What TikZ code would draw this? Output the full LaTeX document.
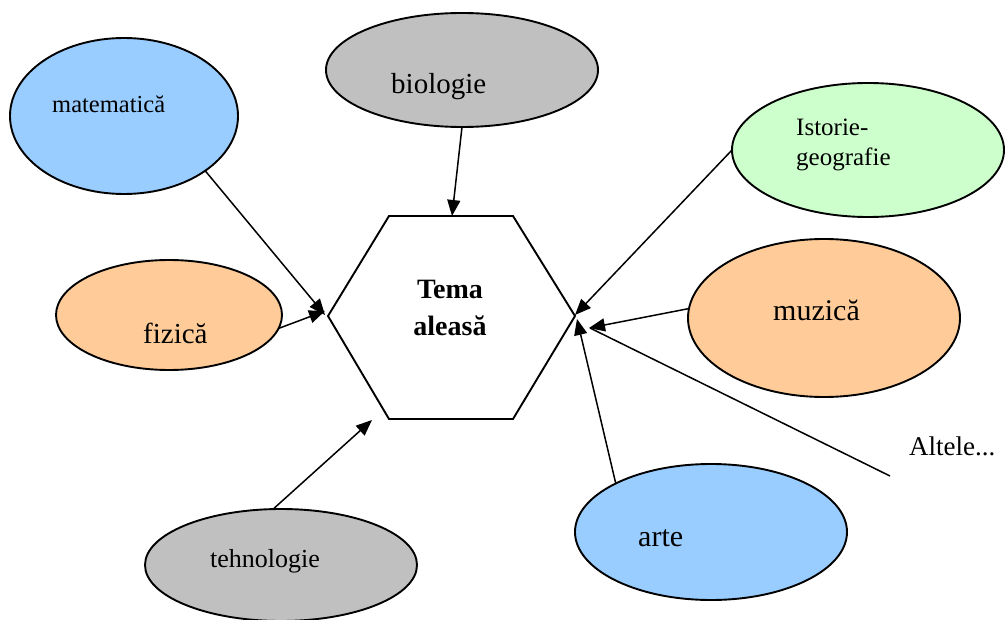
\documentclass[tikz,border=0pt]{standalone}
\usepackage{fontspec}
\setmainfont{Liberation Serif}
\usetikzlibrary{shapes.geometric,arrows.meta}
\definecolor{cblue}{HTML}{99CCFF}
\definecolor{corange}{HTML}{FFCC99}
\definecolor{cgrey}{HTML}{C0C0C0}
\definecolor{cgreen}{HTML}{CCFFCC}
\tikzset{
  bubble/.style={ellipse, draw=black, line width=1.9pt, inner sep=0pt, outer sep=0pt},
  lbl/.style={anchor=base west, inner sep=0pt},
  conn/.style={line width=1.5pt, -{Triangle[length=16pt,width=13pt]}},
  plainconn/.style={line width=1.5pt},
}
\begin{document}
\begin{tikzpicture}[x=1pt,y=-1pt]
\useasboundingbox (0,0) rectangle (1006,620);
% ellipses
\node[bubble, fill=cblue, minimum width=228pt, minimum height=156pt] (mat) at (124,116) {};
\node[bubble, fill=corange, minimum width=226pt, minimum height=110pt] (fiz) at (169,315) {};
\node[bubble, fill=cgrey, minimum width=272pt, minimum height=114pt] (bio) at (462,70) {};
\node[bubble, fill=cgreen, minimum width=272pt, minimum height=134pt] (ist) at (868,150) {};
\node[bubble, fill=corange, minimum width=272pt, minimum height=158pt] (muz) at (824,318) {};
\node[bubble, fill=cblue, minimum width=272pt, minimum height=136pt] (arte) at (711,532) {};
\node[bubble, fill=cgrey, minimum width=272pt, minimum height=112pt] (teh) at (281,565) {};
% labels
\node[lbl, font=\fontsize{24.5}{29}\selectfont] (tmat) at (52,113) {matematică};
\node[lbl, font=\fontsize{29}{34}\selectfont] (tfiz) at (143,343) {fizică};
\node[lbl, font=\fontsize{29}{34}\selectfont] (tbio) at (391,94) {biologie};
\node[anchor=north west, inner sep=0pt, align=left, font=\fontsize{25}{30}\selectfont] (tist) at (796,118.5) {Istorie-\\geografie};
\node[lbl, font=\fontsize{30}{35}\selectfont] (tmuz) at (773,320) {muzică};
\node[lbl, font=\fontsize{30}{35}\selectfont] (tarte) at (638,546) {arte};
\node[lbl, font=\fontsize{26}{31}\selectfont] (tteh) at (210,567) {tehnologie};
\node[lbl, font=\fontsize{27}{32}\selectfont] (talt) at (909,455) {Altele...};
% hexagon
\coordinate (h1) at (389,216);
\coordinate (h2) at (513,216);
\coordinate (h3) at (575,316);
\coordinate (h4) at (513,419);
\coordinate (h5) at (389,419);
\coordinate (h6) at (328,316);
\draw[line width=1.9pt, line join=miter] (h1) -- (h2) -- (h3) -- (h4) -- (h5) -- (h6) -- cycle;
\node[anchor=north, inner sep=0pt, align=center, font=\bfseries\fontsize{28}{37}\selectfont] (tema) at (450,279.5) {Tema\\aleasă};
% arrow targets
\coordinate (tMat) at (325,315);
\coordinate (tFiz) at (325,311);
\coordinate (tBio) at (452,216);
\coordinate (tTeh) at (372,420);
\coordinate (tIst) at (575,315);
\coordinate (tMuz) at (589,328);
\coordinate (tArte) at (577,319);
\coordinate (altStart) at (890,476);
\coordinate (altEnd) at (590,328);
% connectors
\draw[conn] (mat.-34) -- (tMat);
\draw[conn] (fiz.-7) -- (tFiz);
\draw[conn] (bio.-90) -- (tBio);
\draw[conn] (teh.98) -- (tTeh);
\draw[conn] (ist.180) -- (tIst);
\draw[conn] (muz.176) -- (tMuz);
\draw[conn] (arte.153) -- (tArte);
\draw[plainconn] (altStart) -- (altEnd);
\end{tikzpicture}
\end{document}
